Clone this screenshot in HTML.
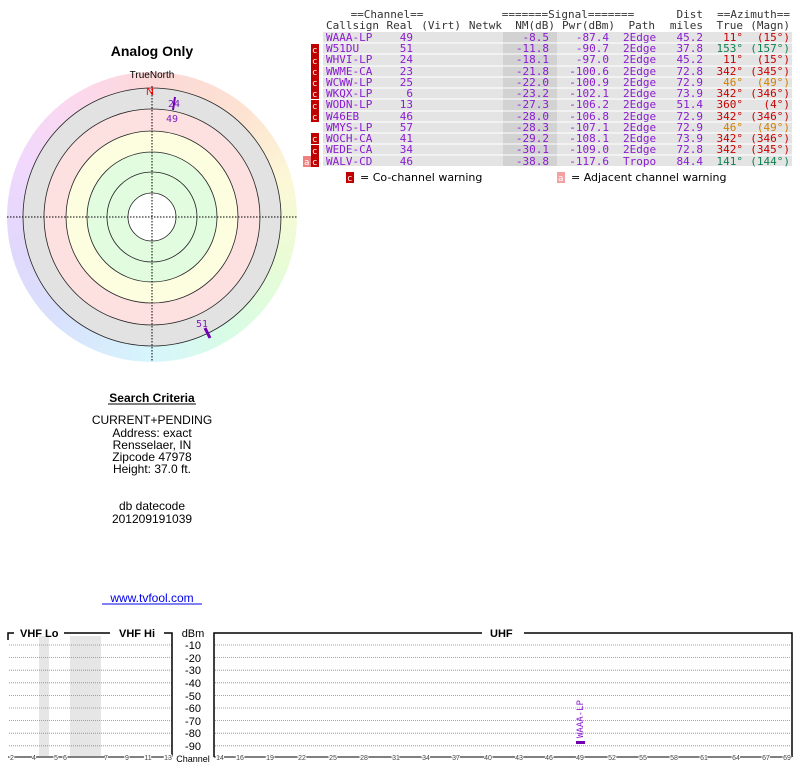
<!DOCTYPE html>
<html><head><meta charset="utf-8"><style>
body{margin:0;background:#fff;width:800px;height:768px;overflow:hidden;position:relative;font-family:"Liberation Sans",sans-serif}
#ring{position:absolute;left:7px;top:72px;width:290px;height:290px;border-radius:50%;background:conic-gradient(from 0deg,#fcd8d8 0deg,#fde2d2 40deg,#fcf8d6 75deg,#e8fcd6 110deg,#d8fce4 145deg,#d6f6fc 180deg,#d8e2fc 220deg,#e0d8fc 255deg,#f2d8fc 295deg,#fcd8ec 330deg,#fcd8d8 360deg)}
svg{position:absolute;left:0;top:0}
</style></head><body>
<div id="ring"></div>
<svg width="800" height="768" viewBox="0 0 800 768">
<text x="152" y="56" font-size="14" font-weight="bold" text-anchor="middle">Analog Only</text>
<text x="152" y="78" font-size="10" text-anchor="middle">TrueNorth</text>
<circle cx="152" cy="217" r="129" fill="#e2e2e2"/>
<circle cx="152" cy="217" r="108" fill="#fde0e0"/>
<circle cx="152" cy="217" r="86" fill="#fdfde0"/>
<circle cx="152" cy="217" r="65" fill="#e2fce0"/>
<circle cx="152" cy="217" r="24" fill="#fff"/>
<g fill="none" stroke="#222" stroke-width="0.8">
<circle cx="152" cy="217" r="129"/><circle cx="152" cy="217" r="108"/><circle cx="152" cy="217" r="86"/><circle cx="152" cy="217" r="65"/><circle cx="152" cy="217" r="45"/><circle cx="152" cy="217" r="24"/>
</g>
<line x1="7" y1="217" x2="297" y2="217" stroke="#000" stroke-dasharray="1.5,1.5"/>
<line x1="152" y1="86" x2="152" y2="362" stroke="#000" stroke-dasharray="1.5,1.5"/>
<text x="146" y="95" font-size="11" fill="#f00">N</text>
<line x1="175" y1="97" x2="173" y2="110" stroke="#7000b0" stroke-width="2"/>
<text x="174" y="107" font-size="10" fill="#8020c0" text-anchor="middle" font-family="DejaVu Sans Mono,monospace">24</text>
<text x="172" y="122" font-size="10" fill="#8020c0" text-anchor="middle" font-family="DejaVu Sans Mono,monospace">49</text>
<line x1="205" y1="328" x2="210" y2="338" stroke="#7000b0" stroke-width="3"/>
<text x="202" y="327" font-size="10" fill="#8020c0" text-anchor="middle" font-family="DejaVu Sans Mono,monospace">51</text>

<text x="152" y="402" font-size="12" font-weight="bold" text-anchor="middle">Search Criteria</text>
<line x1="108" y1="404" x2="196" y2="404" stroke="#000"/>
<g font-size="12" text-anchor="middle">
<text x="152" y="424">CURRENT+PENDING</text><text x="152" y="437">Address: exact</text><text x="152" y="449">Rensselaer, IN</text><text x="152" y="461">Zipcode 47978</text><text x="152" y="473">Height: 37.0 ft.</text>
<text x="152" y="510">db datecode</text><text x="152" y="523">201209191039</text>
<text x="152" y="602" fill="#0000ee">www.tvfool.com</text>
</g>
<line x1="102" y1="604" x2="202" y2="604" stroke="#0000ee"/>

<!-- table -->
<rect x="323" y="32" width="469" height="134" fill="#e4e4e4"/>
<rect x="503" y="32" width="54" height="134" fill="#d2d2d2"/>
<g stroke="#fff" stroke-width="1">
<line x1="323" y1="43" x2="792" y2="43"/><line x1="323" y1="54" x2="792" y2="54"/><line x1="323" y1="66" x2="792" y2="66"/><line x1="323" y1="77" x2="792" y2="77"/><line x1="323" y1="88" x2="792" y2="88"/><line x1="323" y1="99" x2="792" y2="99"/><line x1="323" y1="111" x2="792" y2="111"/><line x1="323" y1="122" x2="792" y2="122"/><line x1="323" y1="133" x2="792" y2="133"/><line x1="323" y1="144" x2="792" y2="144"/><line x1="323" y1="155" x2="792" y2="155"/>
</g>
<g font-family="DejaVu Sans Mono,Liberation Mono,monospace" font-size="11">
<g fill="#333">
<text x="387" y="18" text-anchor="middle">==Channel==</text>
<text x="568" y="18" text-anchor="middle">=======Signal=======</text>
<text x="703" y="18" text-anchor="end">Dist</text>
<text x="790" y="18" text-anchor="end">==Azimuth==</text>
<text x="326" y="29">Callsign</text><text x="413" y="29" text-anchor="end">Real</text><text x="461" y="29" text-anchor="end">(Virt)</text><text x="502" y="29" text-anchor="end">Netwk</text>
<text x="555" y="29" text-anchor="end">NM(dB)</text><text x="615" y="29" text-anchor="end">Pwr(dBm)</text><text x="655" y="29" text-anchor="end">Path</text><text x="703" y="29" text-anchor="end">miles</text><text x="743" y="29" text-anchor="end">True</text><text x="790" y="29" text-anchor="end">(Magn)</text>
</g>
<g fill="#8a1cd0">
<text x="326" y="41">WAAA-LP</text><text x="326" y="52">W51DU</text><text x="326" y="63">WHVI-LP</text><text x="326" y="75">WWME-CA</text><text x="326" y="86">WCWW-LP</text><text x="326" y="97">WKQX-LP</text><text x="326" y="108">WODN-LP</text><text x="326" y="120">W46EB</text><text x="326" y="131">WMYS-LP</text><text x="326" y="142">WOCH-CA</text><text x="326" y="153">WEDE-CA</text><text x="326" y="165">WALV-CD</text>
</g>
<g fill="#8a1cd0" text-anchor="end">
<text x="413" y="41">49</text><text x="413" y="52">51</text><text x="413" y="63">24</text><text x="413" y="75">23</text><text x="413" y="86">25</text><text x="413" y="97">6</text><text x="413" y="108">13</text><text x="413" y="120">46</text><text x="413" y="131">57</text><text x="413" y="142">41</text><text x="413" y="153">34</text><text x="413" y="165">46</text>
<text x="549" y="41">-8.5</text><text x="549" y="52">-11.8</text><text x="549" y="63">-18.1</text><text x="549" y="75">-21.8</text><text x="549" y="86">-22.0</text><text x="549" y="97">-23.2</text><text x="549" y="108">-27.3</text><text x="549" y="120">-28.0</text><text x="549" y="131">-28.3</text><text x="549" y="142">-29.2</text><text x="549" y="153">-30.1</text><text x="549" y="165">-38.8</text>
<text x="609" y="41">-87.4</text><text x="609" y="52">-90.7</text><text x="609" y="63">-97.0</text><text x="609" y="75">-100.6</text><text x="609" y="86">-100.9</text><text x="609" y="97">-102.1</text><text x="609" y="108">-106.2</text><text x="609" y="120">-106.8</text><text x="609" y="131">-107.1</text><text x="609" y="142">-108.1</text><text x="609" y="153">-109.0</text><text x="609" y="165">-117.6</text>
<text x="703" y="41">45.2</text><text x="703" y="52">37.8</text><text x="703" y="63">45.2</text><text x="703" y="75">72.8</text><text x="703" y="86">72.9</text><text x="703" y="97">73.9</text><text x="703" y="108">51.4</text><text x="703" y="120">72.9</text><text x="703" y="131">72.9</text><text x="703" y="142">73.9</text><text x="703" y="153">72.8</text><text x="703" y="165">84.4</text>
</g>
<g fill="#8a1cd0">
<text x="623" y="41">2Edge</text><text x="623" y="52">2Edge</text><text x="623" y="63">2Edge</text><text x="623" y="75">2Edge</text><text x="623" y="86">2Edge</text><text x="623" y="97">2Edge</text><text x="623" y="108">2Edge</text><text x="623" y="120">2Edge</text><text x="623" y="131">2Edge</text><text x="623" y="142">2Edge</text><text x="623" y="153">2Edge</text><text x="623" y="165">Tropo</text>
</g>
<g text-anchor="end">
<text x="743" y="41" fill="#c80000">11°</text><text x="790" y="41" fill="#c80000">(15°)</text>
<text x="743" y="52" fill="#108050">153°</text><text x="790" y="52" fill="#108050">(157°)</text>
<text x="743" y="63" fill="#c80000">11°</text><text x="790" y="63" fill="#c80000">(15°)</text>
<text x="743" y="75" fill="#c80000">342°</text><text x="790" y="75" fill="#c80000">(345°)</text>
<text x="743" y="86" fill="#d08000">46°</text><text x="790" y="86" fill="#d08000">(49°)</text>
<text x="743" y="97" fill="#c80000">342°</text><text x="790" y="97" fill="#c80000">(346°)</text>
<text x="743" y="108" fill="#c80000">360°</text><text x="790" y="108" fill="#c80000">(4°)</text>
<text x="743" y="120" fill="#c80000">342°</text><text x="790" y="120" fill="#c80000">(346°)</text>
<text x="743" y="131" fill="#d08000">46°</text><text x="790" y="131" fill="#d08000">(49°)</text>
<text x="743" y="142" fill="#c80000">342°</text><text x="790" y="142" fill="#c80000">(346°)</text>
<text x="743" y="153" fill="#c80000">342°</text><text x="790" y="153" fill="#c80000">(345°)</text>
<text x="743" y="165" fill="#108050">141°</text><text x="790" y="165" fill="#108050">(144°)</text>
</g>
</g>
<g fill="#c00000">
<rect x="311" y="44" width="8" height="11"/><rect x="311" y="55" width="8" height="11"/><rect x="311" y="66" width="8" height="11"/><rect x="311" y="77" width="8" height="11"/><rect x="311" y="88" width="8" height="11"/><rect x="311" y="100" width="8" height="11"/><rect x="311" y="111" width="8" height="11"/><rect x="311" y="133" width="8" height="11"/><rect x="311" y="145" width="8" height="11"/><rect x="311" y="156" width="8" height="11"/>
<rect x="346" y="172" width="8" height="11"/>
</g>
<rect x="303" y="156" width="8" height="11" fill="#f08080"/>
<rect x="557" y="172" width="8" height="11" fill="#f4a0a0"/>
<g font-family="DejaVu Sans Mono,monospace" font-size="9" fill="#fff">
<text x="312" y="53">c</text><text x="312" y="64">c</text><text x="312" y="75">c</text><text x="312" y="86">c</text><text x="312" y="97">c</text><text x="312" y="109">c</text><text x="312" y="120">c</text><text x="312" y="142">c</text><text x="312" y="154">c</text><text x="312" y="165">c</text><text x="304" y="165">a</text><text x="347" y="181">c</text><text x="558" y="181">a</text>
</g>
<text x="360" y="181" font-size="11" font-family="DejaVu Sans,sans-serif">= Co-channel warning</text>
<text x="571" y="181" font-size="11" font-family="DejaVu Sans,sans-serif">= Adjacent channel warning</text>

<!-- bottom chart -->
<rect x="39" y="636" width="10" height="120" fill="#e6e6e6"/>
<rect x="70" y="636" width="31" height="120" fill="#e6e6e6"/>
<g stroke="#888" stroke-width="0.8" stroke-dasharray="1,1">
<line x1="9" y1="645" x2="172" y2="645"/><line x1="9" y1="657.6" x2="172" y2="657.6"/><line x1="9" y1="670.2" x2="172" y2="670.2"/><line x1="9" y1="682.8" x2="172" y2="682.8"/><line x1="9" y1="695.4" x2="172" y2="695.4"/><line x1="9" y1="708" x2="172" y2="708"/><line x1="9" y1="720.6" x2="172" y2="720.6"/><line x1="9" y1="733.2" x2="172" y2="733.2"/><line x1="9" y1="745.8" x2="172" y2="745.8"/>
<line x1="215" y1="645" x2="791" y2="645"/><line x1="215" y1="657.6" x2="791" y2="657.6"/><line x1="215" y1="670.2" x2="791" y2="670.2"/><line x1="215" y1="682.8" x2="791" y2="682.8"/><line x1="215" y1="695.4" x2="791" y2="695.4"/><line x1="215" y1="708" x2="791" y2="708"/><line x1="215" y1="720.6" x2="791" y2="720.6"/><line x1="215" y1="733.2" x2="791" y2="733.2"/><line x1="215" y1="745.8" x2="791" y2="745.8"/>
</g>
<g stroke="#000" stroke-width="1.5" fill="none">
<polyline points="8,640 8,633 14,633"/><line x1="64" y1="633" x2="110" y2="633"/><polyline points="164,633 172,633 172,757"/>
<polyline points="214,757 214,633 482,633"/><polyline points="524,633 792,633 792,757"/>
</g>
<g stroke="#000" stroke-width="1"><line x1="8" y1="757" x2="172" y2="757"/><line x1="214" y1="757" x2="792" y2="757"/></g>
<g font-size="11" font-weight="bold"><text x="20" y="637">VHF Lo</text><text x="119" y="637">VHF Hi</text><text x="490" y="637">UHF</text></g>
<g font-size="11" text-anchor="middle"><text x="193" y="637">dBm</text><text x="193" y="649">-10</text><text x="193" y="662">-20</text><text x="193" y="674">-30</text><text x="193" y="687">-40</text><text x="193" y="700">-50</text><text x="193" y="712">-60</text><text x="193" y="725">-70</text><text x="193" y="737">-80</text><text x="193" y="750">-90</text><text x="193" y="762" font-size="9">Channel</text></g>
<g font-size="7" fill="#444" text-anchor="middle" style="paint-order:stroke" stroke="#fff" stroke-width="2">
<text x="12" y="760">2</text><text x="34" y="760">4</text><text x="56" y="760">5</text><text x="65" y="760">6</text><text x="106" y="760">7</text><text x="127" y="760">9</text><text x="148" y="760">11</text><text x="168" y="760">13</text>
<text x="220" y="760">14</text><text x="240" y="760">16</text><text x="270" y="760">19</text><text x="302" y="760">22</text><text x="333" y="760">25</text><text x="364" y="760">28</text><text x="396" y="760">31</text><text x="426" y="760">34</text><text x="456" y="760">37</text><text x="488" y="760">40</text><text x="519" y="760">43</text><text x="549" y="760">46</text><text x="580" y="760">49</text><text x="612" y="760">52</text><text x="643" y="760">55</text><text x="674" y="760">58</text><text x="704" y="760">61</text><text x="736" y="760">64</text><text x="766" y="760">67</text><text x="787" y="760">69</text>
</g>
<rect x="576" y="741" width="9" height="3" fill="#7000b0"/>
<text transform="translate(583,738) rotate(-90)" font-size="9" fill="#8a1cd0" font-family="DejaVu Sans Mono,monospace">WAAA-LP</text>
</svg>
</body></html>
